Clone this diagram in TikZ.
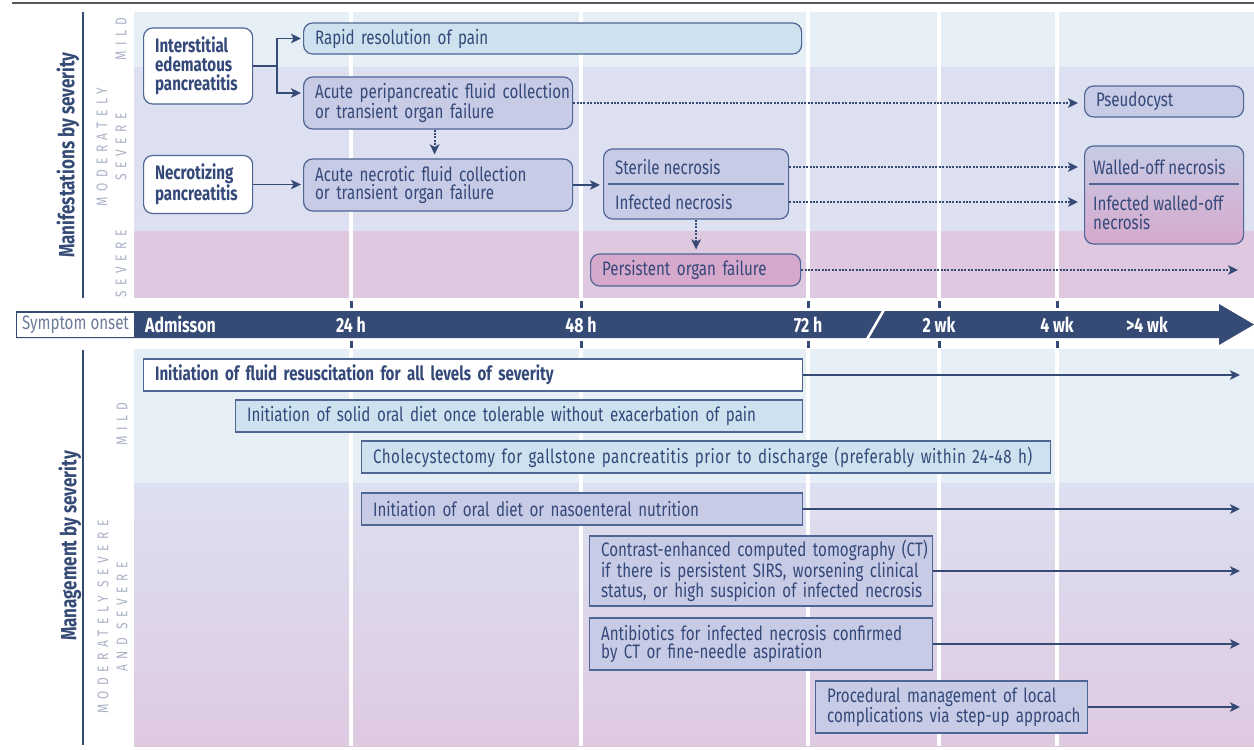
\documentclass[tikz,border=0pt]{standalone}
\usepackage{fontspec}
\setmainfont{Fira Sans}[FakeStretch=0.775]
\usetikzlibrary{arrows.meta}
\definecolor{navy}{HTML}{354B76}
\definecolor{txt}{HTML}{34497A}
\definecolor{bord}{HTML}{4F6594}
\definecolor{mildbg}{HTML}{E6EFF6}
\definecolor{modbg}{HTML}{DDE0F0}
\definecolor{sevbg}{HTML}{DEC9E1}
\definecolor{bluebox}{HTML}{CDE1EE}
\definecolor{lavbox}{HTML}{C7CBE5}
\definecolor{pinkbox}{HTML}{D6A9CC}
\definecolor{lbl}{HTML}{A9B1C7}
\definecolor{rulec}{HTML}{5A5A5A}
\definecolor{onsetc}{HTML}{6E7C9C}
\newcommand\nb[1]{\mbox{#1}}
\begin{document}
\begin{tikzpicture}[x=1pt,y=-1pt,
  font=\fontsize{19.5}{18.8}\selectfont, text=txt,
  rbox/.style={draw=bord, line width=1.2pt, rounded corners=9pt, inner xsep=11.5pt, inner ysep=0pt, align=left, anchor=west},
  sbox/.style={draw=bord, line width=1.2pt, inner xsep=11.5pt, inner ysep=0pt, align=left, anchor=west},
  boldtxt/.style={font=\fontsize{19.5}{18.8}\selectfont\bfseries},
  conn/.style={draw=navy, line width=1.8pt},
  tip/.style={-{Stealth[length=10pt,width=9.5pt,inset=2.5pt]}},
  dots/.style={draw=navy, line width=2pt, dash pattern=on 1.9pt off 1.5pt},
  bandlbl/.style={text=lbl, font=\fontsize{15.5}{19}\selectfont\addfontfeature{LetterSpace=35}, rotate=90, align=center, inner sep=0pt},
  sidettl/.style={text=navy, font=\fontsize{22}{22}\selectfont\bfseries, rotate=90, inner sep=0pt},
  tlab/.style={text=white, font=\fontsize{20.5}{20}\selectfont\bfseries, inner sep=0pt},
  gridl/.style={draw=white, line width=3.5pt}
]
\useasboundingbox (0,0) rectangle (1254,750);
% top rule
\draw[rulec, line width=2pt] (12,3) -- (1254,3);
% side lines and titles
\draw[navy, line width=1.5pt] (83,12) -- (83,298);
\draw[navy, line width=1.5pt] (83,350) -- (83,745);
\node[sidettl] (ttl1) at (68,155) {Manifestations by severity};
\node[sidettl] (ttl2) at (70,546) {Management by severity};
\node[bandlbl] (l1) at (121,39) {MILD};
\node[bandlbl] (l2) at (111.5,147) {MODERATELY\\SEVERE};
\node[bandlbl] (l3) at (121,264) {SEVERE};
\node[bandlbl] (l4) at (122,424) {MILD};
\node[bandlbl] (l5) at (112.5,617) {MODERATELY SEVERE\\AND SEVERE};
% backgrounds
\fill[mildbg] (134,12) rectangle (1254,67);
\fill[modbg] (134,67) rectangle (1254,231);
\fill[sevbg] (134,231) rectangle (1254,298);
\fill[mildbg] (134,349) rectangle (1254,483);
\shade[top color=modbg, bottom color=sevbg] (134,483) rectangle (1254,746);
\foreach \gx in {351,581,808,939,1057}{
  \draw[gridl] (\gx,12) -- (\gx,298);
  \draw[gridl] (\gx,349) -- (\gx,746);
  \fill[navy] ({\gx-1.5},301) rectangle ({\gx+1.5},308);
  \fill[navy] ({\gx-1.5},341) rectangle ({\gx+1.5},348);
}
% timeline
\fill[navy] (16,311) -- (1219,311) -- (1219,304) -- (1254,324.5) -- (1219,345) -- (1219,338) -- (16,338) -- cycle;
\draw[white, line width=2.6pt] (866,341) -- (885,308);
\node[fill=white, minimum width=117pt, minimum height=24pt, inner sep=0pt, text=onsetc] (onset) at (75.5,324.5) {Symptom onset};
\node[tlab, anchor=west] (adm) at (145,324.5) {Admisson};
\node[tlab] (t24) at (351,324.5) {24 h};
\node[tlab] (t48) at (581,324.5) {48 h};
\node[tlab] (t72) at (808,324.5) {72 h};
\node[tlab] (t2w) at (939,324.5) {2 wk};
\node[tlab] (t4w) at (1057,324.5) {4 wk};
\node[tlab] (tg4) at (1147,324.5) {>4 wk};
% top boxes
\node[rbox, boldtxt, fill=white, minimum width=109pt, text width=86pt, minimum height=76pt] (inter) at (143,66) {Interstitial\\edematous\\pancreatitis};
\node[rbox, boldtxt, fill=white, minimum width=109pt, text width=86pt, minimum height=58pt] (necro) at (143,184.5) {Necrotizing\\pancreatitis};
\node[rbox, fill=bluebox, minimum width=498pt, text width=475pt, minimum height=31pt] (rapid) at (303,38.5) {\nb{Rapid resolution of pain}};
\node[rbox, fill=lavbox, minimum width=269pt, text width=246pt, minimum height=52pt] (peri) at (303,103) {\nb{Acute peripancreatic fluid collection}\\\nb{or transient organ failure}};
\node[rbox, fill=lavbox, minimum width=269pt, text width=246pt, minimum height=52pt] (necfl) at (303,185) {\nb{Acute necrotic fluid collection}\\\nb{or transient organ failure}};
\node[rbox, fill=lavbox, minimum width=185pt, minimum height=70pt] (sterbox) at (603,184) {};
\node[inner sep=0pt, anchor=west] (sterile) at (615,167) {Sterile necrosis};
\node[inner sep=0pt, anchor=west] (infected) at (615,202) {Infected necrosis};
\draw[bord, line width=1.4pt] ([xshift=5pt]sterbox.west) -- ([xshift=-5pt]sterbox.east);
\node[rbox, fill=pinkbox, minimum width=210pt, text width=187pt, minimum height=32pt] (persist) at (590,270) {\nb{Persistent organ failure}};
\node[rbox, fill=lavbox, minimum width=159pt, text width=136pt, minimum height=31pt] (pseudo) at (1084,101.5) {Pseudocyst};
\node[rbox, top color=lavbox, middle color=lavbox!80!pinkbox, bottom color=pinkbox, minimum width=159pt, minimum height=98pt] (walled) at (1084,195) {};
\node[inner sep=0pt, anchor=west] (wtop) at (1093,167) {Walled-off necrosis};
\node[inner sep=0pt, anchor=west, align=left] (wbot) at (1093,213) {Infected walled-off\\necrosis};
\draw[bord, line width=1.4pt] ([xshift=5pt,yshift=11pt]walled.west) -- ([xshift=-5pt,yshift=11pt]walled.east);
% top connectors
\draw[conn] (inter.east) -- ++(24,0) coordinate (split);
\draw[conn, tip, shorten >=2pt] (split) |- (rapid.west);
\draw[conn, tip, shorten >=2pt] (split) |- ([yshift=10pt]peri.west);
\draw[conn, tip, shorten >=2pt] (necro.east) -- (necro.east -| necfl.west);
\draw[conn, tip, shorten >=3pt] (necfl.east) -- (necfl.east -| sterbox.west);
\draw[dots, tip, shorten >=4pt] ([xshift=-3.5pt]peri.south) -- ([xshift=-3.5pt]peri.south |- necfl.north);
\draw[dots, tip, shorten >=6pt] (peri.east) -- (peri.east -| pseudo.west);
\draw[dots, tip, shorten >=6pt] (sterbox.east |- sterile) -- (walled.west |- sterile);
\draw[dots, tip, shorten >=6pt] (sterbox.east |- infected) -- (walled.west |- infected);
\draw[dots, tip, shorten >=4pt] (sterbox.south) -- (sterbox.south |- persist.north);
\coordinate (pend) at (1238,270);
\draw[dots, tip] (persist.east) -- (pend);
% bottom boxes
\node[sbox, boldtxt, fill=white, minimum width=659pt, text width=636pt, minimum height=32pt] (fluid) at (143,375) {\nb{Initiation of fluid resuscitation for all levels of severity}};
\node[sbox, fill=bluebox, minimum width=567pt, text width=544pt, minimum height=32pt] (solid) at (235,416) {\nb{Initiation of solid oral diet once tolerable without exacerbation of pain}};
\node[sbox, fill=bluebox, minimum width=689pt, text width=666pt, minimum height=32pt] (chole) at (361,457) {\nb{\addfontfeature{LetterSpace=2.5}Cholecystectomy for gallstone pancreatitis prior to discharge (preferably within 24-48 h)}};
\node[sbox, fill=lavbox, minimum width=441pt, text width=418pt, minimum height=32pt] (oral) at (361,509) {\nb{Initiation of oral diet or nasoenteral nutrition}};
\node[sbox, fill=lavbox, minimum width=343pt, text width=320pt, minimum height=70pt] (ct) at (589,571) {\nb{Contrast-enhanced computed tomography (CT)}\\\nb{if there is persistent SIRS, worsening clinical}\\\nb{status, or high suspicion of infected necrosis}};
\node[sbox, fill=lavbox, minimum width=343pt, text width=320pt, minimum height=52pt] (anti) at (589,644) {\nb{Antibiotics for infected necrosis confirmed}\\\nb{by CT or fine-needle aspiration}};
\node[sbox, fill=lavbox, minimum width=272pt, text width=249pt, minimum height=52pt] (proc) at (815,707) {\nb{Procedural management of local}\\\nb{complications via step-up approach}};
% bottom connectors
\coordinate (e1) at (1240,375);
\coordinate (e2) at (1240,509);
\coordinate (e3) at (1240,571);
\coordinate (e4) at (1240,644);
\coordinate (e5) at (1240,707);
\draw[conn, tip] (fluid.east) -- (e1);
\draw[conn, tip] (oral.east) -- (e2);
\draw[conn, tip] (ct.east) -- (e3);
\draw[conn, tip] (anti.east) -- (e4);
\draw[conn, tip] (proc.east) -- (e5);
\end{tikzpicture}
\end{document}
